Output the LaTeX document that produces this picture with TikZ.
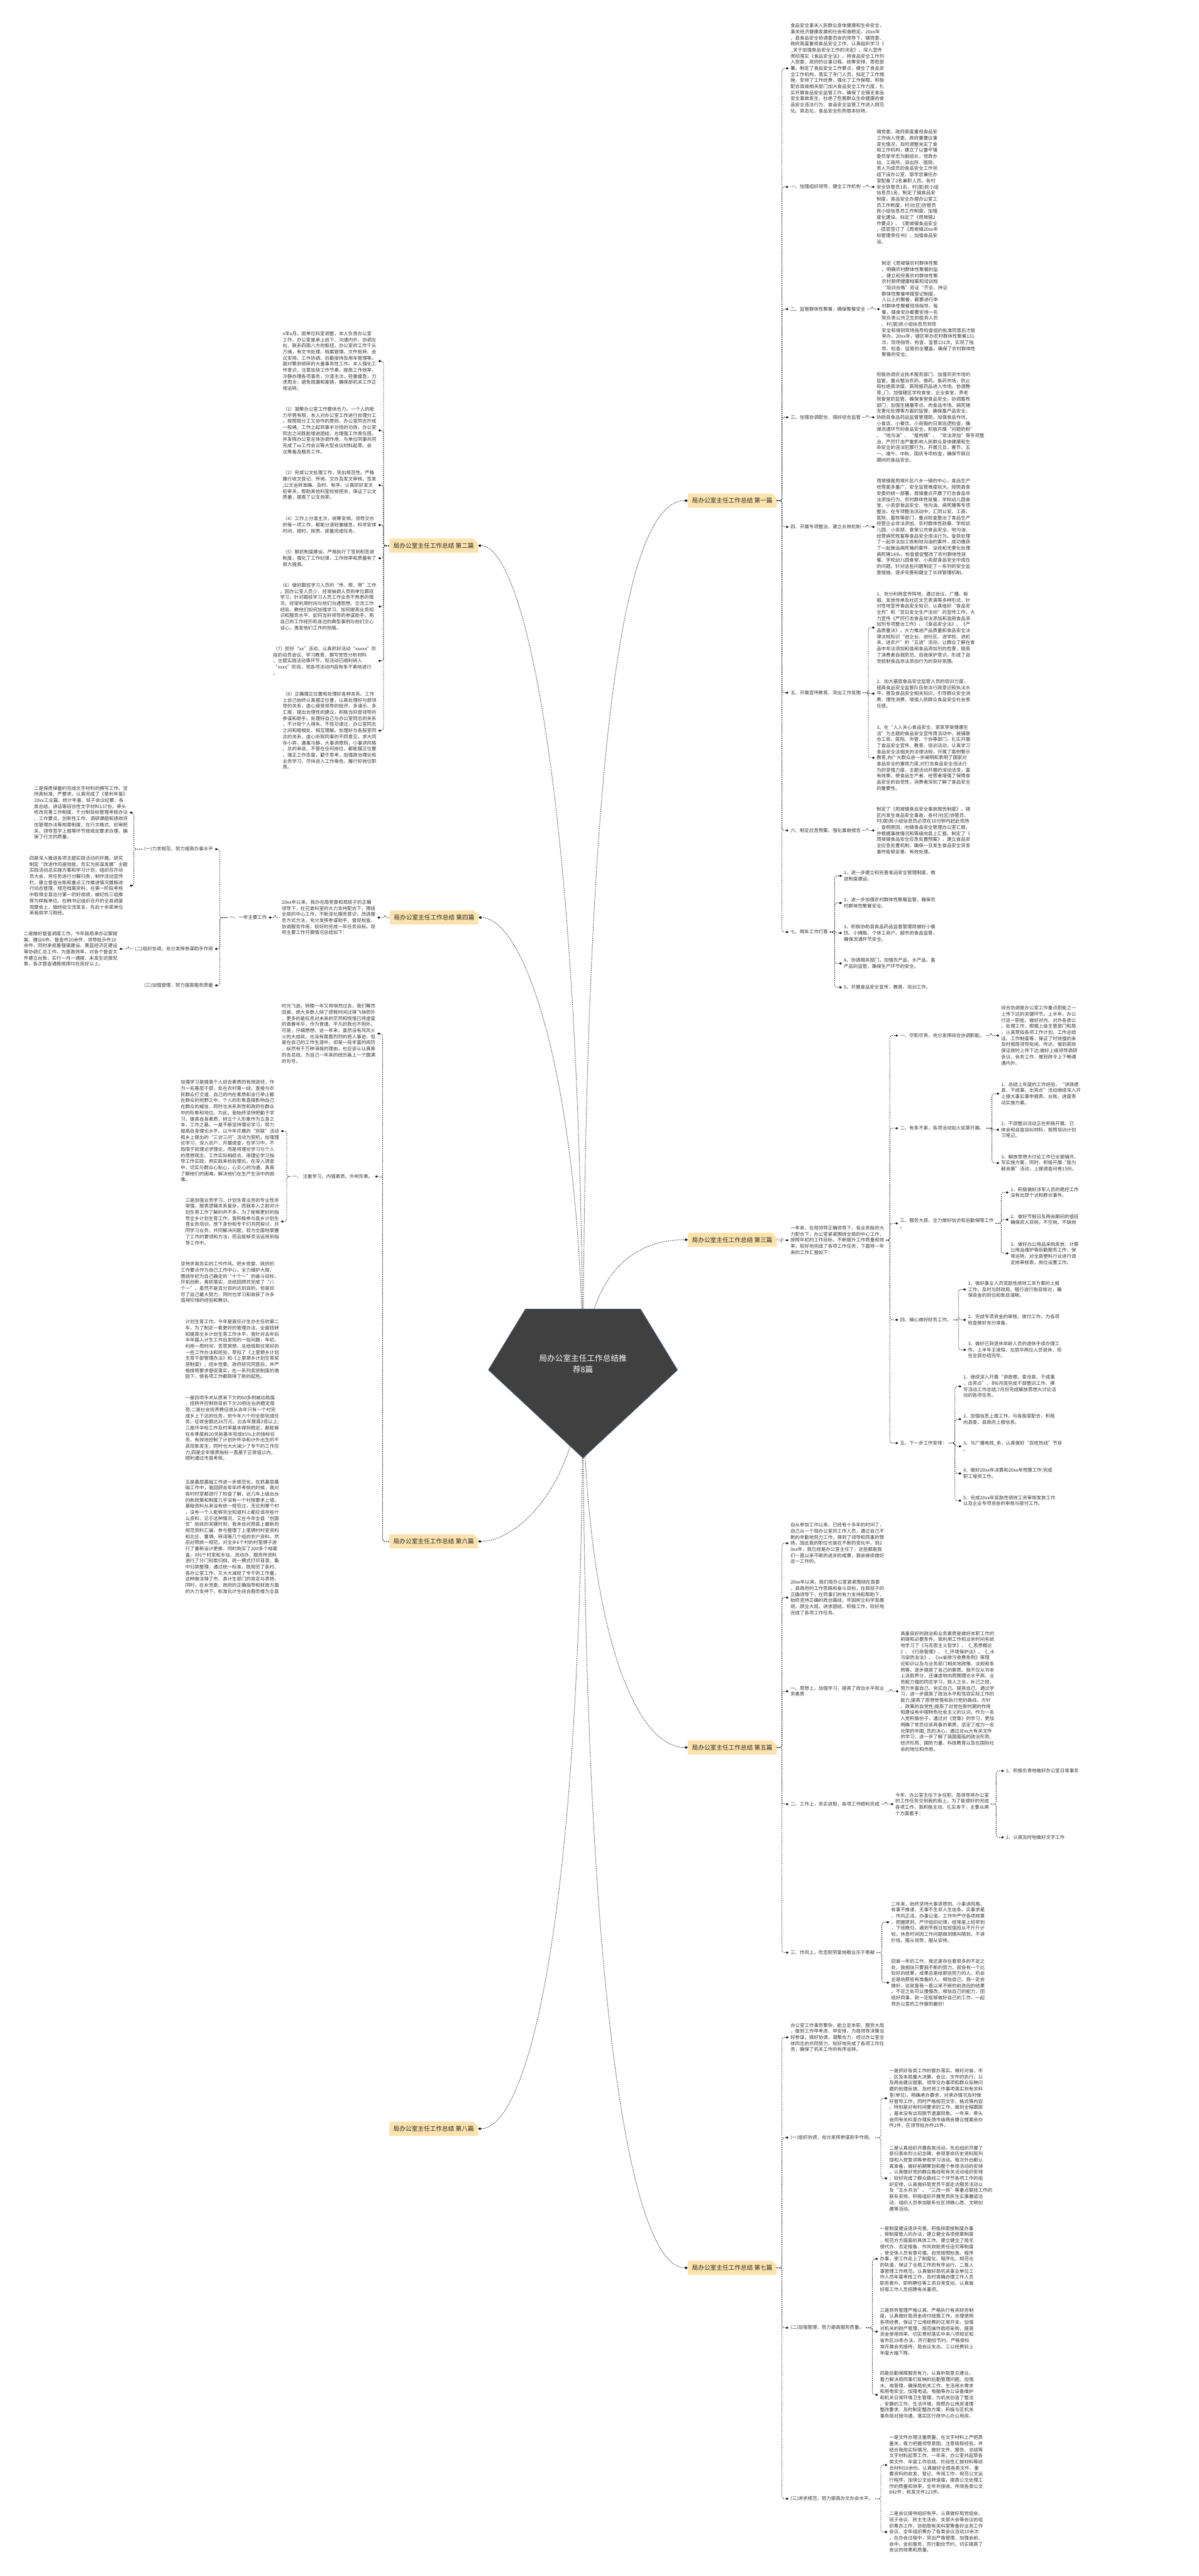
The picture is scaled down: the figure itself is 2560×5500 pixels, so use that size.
\documentclass[tikz,border=0pt]{standalone}
\usepackage{fontspec}
\setmainfont{Noto Sans CJK SC}
\usetikzlibrary{arrows.meta,shapes.misc}
\definecolor{tc}{HTML}{333333}
\definecolor{tpc}{HTML}{FCE3AE}
\definecolor{ctrc}{HTML}{404040}
\definecolor{ctrb}{HTML}{3B5E8C}
\definecolor{lc}{HTML}{1A1A1A}
\newcommand\fsa{\fontsize{10}{13}\selectfont}
\newcommand\rch[3]{\draw[conn] (#1.east) -- ++(#3,0) |- (#2.west);}
\newcommand\lch[3]{\draw[conn] (#1.west) -- ++(-#3,0) |- (#2.east);}
\begin{document}
\begin{tikzpicture}[x=1pt,y=-1pt,
  conn/.style={draw=lc, line width=1.1pt, dash pattern=on 2.2pt off 2.2pt, rounded corners=5pt, -{Diamond[length=6pt,width=5pt]}},
  mainc/.style={draw=lc, line width=1.3pt, dash pattern=on 1.6pt off 2.4pt, -{Diamond[length=7pt,width=6pt]}},
  txt/.style={font=\fsa, align=left, inner xsep=4pt, inner ysep=1pt, text=tc},
  tp/.style={chamfered rectangle, chamfered rectangle corners=north east, chamfered rectangle xsep=5pt, chamfered rectangle ysep=5pt, fill=tpc, font=\fontsize{13}{15}\selectfont, inner xsep=4pt, inner ysep=4pt, minimum height=30pt, text=black!85}]
\fill[white] (0,0) rectangle (2560,5500);
\useasboundingbox (0,0) rectangle (2560,5500);

% ---------- topics ----------
\node[tp,anchor=east] (t1) at (1659,1069) {局办公室主任工作总结 第一篇};
\node[tp,anchor=west] (t2) at (831,1165) {局办公室主任工作总结 第二篇};
\node[tp,anchor=east] (t3) at (1659,2647) {局办公室主任工作总结 第三篇};
\node[tp,anchor=west] (t4) at (832,1959) {局办公室主任工作总结 第四篇};
\node[tp,anchor=east] (t5) at (1659,3731) {局办公室主任工作总结 第五篇};
\node[tp,anchor=west] (t6) at (831,3291) {局办公室主任工作总结 第六篇};
\node[tp,anchor=east] (t7) at (1659,4842) {局办公室主任工作总结 第七篇};
\node[tp,anchor=west] (t8) at (831,4545) {局办公室主任工作总结 第八篇};

% ---------- centre curves ----------
\coordinate (cc) at (1245,2925);
\draw[mainc] (cc) .. controls (1250,1600) and (1330,1069) .. (t1.west);
\draw[mainc] (cc) .. controls (1240,1700) and (1120,1165) .. (t2.east);
\draw[mainc] (cc) .. controls (1258,2720) and (1350,2647) .. (t3.west);
\draw[mainc] (cc) .. controls (1240,2300) and (1120,1959) .. (t4.east);
\draw[mainc] (cc) .. controls (1245,3450) and (1350,3731) .. (t5.west);
\draw[mainc] (cc) .. controls (1235,3180) and (1100,3291) .. (t6.east);
\draw[mainc] (cc) .. controls (1245,4300) and (1350,4842) .. (t7.west);
\draw[mainc] (cc) .. controls (1245,4150) and (1120,4545) .. (t8.east);

\filldraw[fill=ctrc, draw=ctrb, line width=0.8pt] (1122,2795) -- (1368,2795) -- (1447,2925) -- (1245,3113) -- (1043,2925) -- cycle;
\node[font=\fontsize{17}{23}\selectfont, text=white, align=center] (ctr) at (1245,2912) {局办公室主任工作总结推\\荐8篇};

% ---------- 第一篇 ----------
\node[txt,anchor=west] (a1) at (1684,146) {食品安全事关人民群众身体健康和生命安全，\\事关经济健康发展和社会和谐稳定。20xx年\\，县食品安全协调委员会的领导下，镇党委、\\政府高度重视食品安全工作，认真组织学习《\\\_关于加强食品安全工作的决定》，深入宣传\\贯彻落实《食品安全法》，将食品安全工作列\\入党委、政府的议事日程，统筹安排、周密部\\署，制定了食品安全工作要点，健全了食品安\\全工作机构，落实了专门人员，拟定了工作措\\施，安排了工作经费，强化了工作保障，积极\\配合县级相关部门加大食品安全工作力度，扎\\实开展食品安全监管工作，确保了全镇无食品\\安全事故发生，杜绝了危害群众生命健康的食\\品安全违法行为，食品安全监管工作进入规范\\化、常态化，食品安全形势根本好转。};
\node[txt,anchor=west] (a2) at (1684,399) {一、加强组织领导，健全工作机构};
\node[txt,anchor=west] (b2) at (1868,399) {镇党委、政府高度重视食品安\\工作纳入党委、政府重要议事\\变化情况，及时调整充实了食\\和工作机构，建立了以雷平镇\\委员邹学忠为副组长，党政办\\站、工商所、派出所、医院、\\责人为成员的食品安全工作领\\组下设办公室，邹学忠兼任办\\室配备了2名兼职人员。各村\\安全协管员1名，村(居)民小组\\信息员1名。制定了镇食品安\\制度，食品安全办理办公室工\\员工作制度，村(社区)协管员\\民小组信息员工作制度，加强\\度化建设。拟定了《周坡镇2\\作要点》、《周坡镇食品安全\\，层层签订了《周坡镇20xx年\\标管理责任书》，加强食品安\\设。};
\node[txt,anchor=west] (a3) at (1684,660) {二、监管群体性聚餐，确保聚餐安全};
\node[txt,anchor=west] (b3) at (1879,660) {制定《周坡镇农村群体性聚\\，明确农村群体性聚餐的监\\。建立和完善农村群体性聚\\农村厨师健康档案和培训档\\“培训合格”双证“齐全、持证\\群体性聚餐申报登记制度，\\人以上的聚餐，都要进行申\\村群体性聚餐现场指导，每\\餐，镇食安办都要安排一名\\院负责公共卫生的医务人员\\、村(居)民小组信息员到现\\安全和得到现场指导检查组的批准同意后才能\\举办。20xx年，辖区举办农村群体性聚餐131\\次，现场指导、检查、监管131次，实现了指\\导、检查、监管的全覆盖，确保了农村群体性\\聚餐的安全。};
\node[txt,anchor=west] (a4) at (1684,891) {三、加强协调配合，搞好综合监管};
\node[txt,anchor=west] (b4) at (1868,891) {积极协调农业技术服务部门，加强农资市场的\\监管，重点整治农药、兽药、鱼药市场，防止\\和杜绝高浓度、高残留药品进入市场。协调教\\育\_门，加强辖区学校食堂，企业食堂，养老\\院食堂的监管，确保食堂食品安全。协调畜牧\\部门，加强生猪屠宰点、肉食品市场、病死猪\\无害化处理等方面的监管，确保畜产品安全。\\协助县食品药品监督管理局，加强食品作坊、\\小食店、小餐饮、小商贩的日常巡逻检查，确\\保流通环节的食品安全。积极开展“问题奶粉”\\、“地沟油”、“瘦肉精”、“非法添加”等专项整\\治，严厉打击严重影响人民群众身体健康和生\\命安全的违法犯罪行为。开展元旦、春节、五\\一、端午、中秋、国庆专项检查，确保节假日\\期间的食品安全。};
\node[txt,anchor=west] (a5) at (1684,1125) {四、开展专项整治、建立长效机制};
\node[txt,anchor=west] (b5) at (1868,1125) {周坡镇是周坡片区六乡一镇的中心，食品生产\\经营面多量广，安全监管难度较大。按照县食\\安委的统一部署，我镇重点开展了打击食品非\\法添加行为、农村群体性就餐、学校幼儿园食\\堂、小卖部食品安全、地沟油、病死猪等专项\\整治。在专项整治活动中，汇同公安、工商、\\医院、畜牧等部门，重点检查整治了食品生产\\经营企业非法添加、农村群体性就餐、学校幼\\儿园、小卖部、食堂公共食品安全、地沟油、\\经营病死牲畜等食品安全违法行为。查获处理\\了一起非法加工炼制地沟油的案件，成功缴获\\了一起贩运病死猪的案件，没收和无害化处理\\病死猪18头。检查督促整改了农村群体性就\\餐、学校幼儿园食堂、小卖部食品安全中成在\\的问题。针对这些问题制定了一系列的安全监\\管措施，逐步完善和健全了长效管理机制。};
\node[txt,anchor=west] (a6) at (1684,1479) {五、开展宣传教育、突出工作氛围};
\node[txt,anchor=west] (b6a) at (1868,1340) {1、充分利用宣传阵地，通过会议、广播、板\\报、发放传单及社区文艺表演等多种形式，针\\对性地宣传食品安全知识，认真组织“食品安\\全月”和“百日安全生产活动”的宣传工作。大\\力宣传《严厉打击食品非法添加和滥用食品添\\加剂专项整治工作》、《食品安全法》、《产\\品质量法》。大力推进产品质量和食品安全法\\律法规知识“进企业、进社区、进学校、进机\\关、进农户”的“五进”活动，让群众了解在食\\品中非法添加和滥用食品添加剂的危害，提高\\了消费者自我防范、自我保护意识，形成了自\\觉抵制食品非法添加行为的良好氛围。};
\node[txt,anchor=west] (b6b) at (1868,1481) {2、加大基层食品安全监管人员的培训力度，\\提高食品安全监管队伍依法行政意识和执法水\\平，普及食品安全相关知识，引导群众安全消\\费、理性消费，增强人民群众食品安全社会责\\任感。};
\node[txt,anchor=west] (b6c) at (1868,1618) {3、在“人人关心食品安全，家家享受健康生\\活”为主题的食品安全宣传周活动中，我镇联\\合工商、医院、市管、个协等部门，扎实开展\\了食品安全宣传、教育、培训活动，认真学习\\食品安全法相关的法律法规，开展了案例警示\\教育,向广大群众进一步阐明和表明了国家对\\食品安全的重视力度,对打击食品安全违法行\\为的坚强力度、主题活动开展的深动活泼，富\\有效果，使食品生产者、经营者增强了保障食\\品安全的自觉性，消费者深刻了解了食品安全\\的重要性。};
\node[txt,anchor=west] (a7) at (1684,1773) {六、制定应急预案、强化事故报告};
\node[txt,anchor=west] (b7) at (1868,1773) {制定了《周坡镇食品安全事故报告制度》，辖\\区内发生食品安全事故，各村(社区)协管员、\\村(居)民小组信息员必须在10分钟内赶赴现场\\，查明原因，向镇食品安全管理办公室汇报，\\并根据事故情况和等级向县上汇报。制定了《\\周坡镇食品安全应急处置预案》，建立食品安\\全应急处置机制，确保一旦发生食品安全突发\\事件能够妥善、有效处理。};
\node[txt,anchor=west] (a8) at (1684,1990) {七、明年工作打算};
\node[txt,anchor=west] (b8a) at (1798,1870) {1、进一步建立和完善食品安全管理制度，推\\进制度建设。};
\node[txt,anchor=west] (b8b) at (1798,1928) {2、进一步加强农村群体性聚餐监管，确保农\\村群体性聚餐安全。};
\node[txt,anchor=west] (b8c) at (1798,1992) {3、积极协助县食品药品监督管理局做好小餐\\饮、小摊贩、个体工商户、超市的食品监管，\\确保流通环节安全。};
\node[txt,anchor=west] (b8d) at (1798,2057) {4、协调相关部门，加强农产品、水产品、畜\\产品的监管，确保生产环节的安全。};
\node[txt,anchor=west] (b8e) at (1798,2108) {5、开展食品安全宣传、教育、培训工作。};
\foreach \c in {a1,a2,a3,a4,a5,a6,a7,a8} {\rch{t1}{\c}{11}}
\rch{a2}{b2}{10}\rch{a3}{b3}{10}\rch{a4}{b4}{10}\rch{a5}{b5}{10}\rch{a7}{b7}{10}
\foreach \c in {b6a,b6b,b6c} {\rch{a6}{\c}{12}}
\foreach \c in {b8a,b8b,b8c,b8d,b8e} {\rch{a8}{\c}{10}}

% ---------- 第三篇 ----------
\node[txt,anchor=west] (c0) at (1684,2648) {一年来，在局领导正确领导下，各业务股的大\\力配合下，办公室紧紧围绕全局的中心工作，\\按照年初的工作目标，不断提升工作质量和效\\率，较好地完成了各项工作任务，下面将一年\\来的工作汇报如下：};
\node[txt,anchor=west] (c1) at (1918,2211) {一、尽职尽责，充分发挥综合协调职能。};
\node[txt,anchor=west] (d1) at (2134,2211) {综合协调是办公室工作重点职能之一\\上传下达的关键环节。上半年，办公\\行这一职能，做好对内、对外各类公\\、处理工作，根据上级主管部门和局\\，认真草拟各项工作计划、工作总结\\话、工作制度等，保证了时效强的来\\及时报局领导批阅、传达，做到高效\\保证按时上传下达;做好上级领导调研\\会议、会务工作，做到政令上下畅通\\通内外。};
\node[txt,anchor=west] (c2) at (1918,2409) {二、有条不紊，各项活动如火如荼开展。};
\node[txt,anchor=west] (d2a) at (2134,2335) {1、总结上年度的工作经验，“讲政德\\县、干成事、出亮点”活动继续深入开\\上报大事实事申报表、台账、进度表\\动实施方案。};
\node[txt,anchor=west] (d2b) at (2134,2412) {2、干部整训活动正在积极开展。已\\体会和自查自纠材料，按照培训计划\\习笔记。};
\node[txt,anchor=west] (d2c) at (2134,2483) {3、解放思想大讨论工作已全面铺开。\\写实施方案，同时，积极开展“我为\\献良策”活动，上报调查问卷15份。};
\node[txt,anchor=west] (c3) at (1918,2612) {三、服务大局，全力做好信访和后勤保障工作\\。};
\node[txt,anchor=west] (d3a) at (2154,2546) {1、积极做好涉军人员的稳控工作\\没有出现个访和群访事件。};
\node[txt,anchor=west] (d3b) at (2154,2604) {2、做好节假日及两会期间的值班\\确保双人双岗，不空岗、不缺岗};
\node[txt,anchor=west] (d3c) at (2154,2676) {3、做好办公用品采购发放、计算\\公用品维护等后勤服务工作，保\\常运转。对全县塑料行业进行调\\定岗审核表，岗位设置工作。};
\node[txt,anchor=west] (c4) at (1918,2818) {四、细心做好财务工作。};
\node[txt,anchor=west] (d4a) at (2063,2753) {1、做好事业人员奖励性绩效工资方案的上报\\工作。及时与财政局、银行进行账目核对，确\\保资金的到位和账目清晰。};
\node[txt,anchor=west] (d4b) at (2063,2818) {2、完成专项资金的审核、拨付工作，为各项\\检查做好充分准备。};
\node[txt,anchor=west] (d4c) at (2063,2882) {3、做好已到退休年龄人员的退休手续办理工\\作。上半年王淑恒、左丽华两位人员退休，现\\在全部办结完毕。};
\node[txt,anchor=west] (c5) at (1918,3081) {五、下一步工作安排：};
\node[txt,anchor=west] (d5a) at (2053,2960) {1、继续深入开展“讲政德、爱沧县、干成事\\、出亮点”。到6月底完成干部整训工作，撰\\写活动工作总结;7月份完成解放思想大讨论活\\动的各项任务。};
\node[txt,anchor=west] (d5b) at (2053,3030) {2、加强信息上报工作，与各股室配合，积极\\向县委、县政府上报信息。};
\node[txt,anchor=west] (d5c) at (2053,3088) {3、与广播电视\_系，认真做好“百姓热线”节目\\。};
\node[txt,anchor=west] (d5d) at (2053,3146) {4、做好20xx年决算和20xx年预算工作;完成\\职工增资工作。};
\node[txt,anchor=west] (d5e) at (2053,3204) {5、完成20xx年奖励性绩效工资审核发放工作\\以及企业专项资金的审核与拨付工作。};
\rch{t3}{c0}{10}
\foreach \c in {c1,c2,c3,c4,c5} {\rch{c0}{\c}{8}}
\rch{c1}{d1}{10}
\foreach \c in {d2a,d2b,d2c} {\rch{c2}{\c}{12}}
\foreach \c in {d3a,d3b,d3c} {\rch{c3}{\c}{12}}
\foreach \c in {d4a,d4b,d4c} {\rch{c4}{\c}{11}}
\foreach \c in {d5a,d5b,d5c,d5d,d5e} {\rch{c5}{\c}{13}}

% ---------- 第五篇 ----------
\node[txt,anchor=west] (e1) at (1684,3295) {自从参加工作以来，已经有十多年的时间了，\\自己从一个局办公室的工作人员，通过自己不\\断的辛勤地努力工作，得到了领导和同事的赞\\扬，因此我的职位也是在不断的变化中，到2\\0xx年，我已经是办公室主任了，这些都是我\\们一直以来不断的进步的成果，我会继续做好\\这一工作的。};
\node[txt,anchor=west] (e2) at (1684,3411) {20xx年以来。我们局办公室紧紧围绕在县委\\、县政府的工作思路和奋斗目标，在局班子的\\正确领导下，在同事们的有力支持和帮助下，\\始终坚持正确的政治路线，牢固树立科学发展\\观，顾全大局，讲求团结，积极工作，较好地\\完成了各项工作任务。};
\node[txt,anchor=west] (e3) at (1684,3611) {一、思想上，加强学习，提高了政治水平和业\\务素质};
\node[txt,anchor=west] (f3) at (1919,3611) {具备良好的政治和业务素质是做好本职工作的\\前提和必要条件。我利用工作和业余时间系统\\地学习了《马克思主义哲学》、《\_思想概论\\》、《行政管理》、《\_环境保护法》、《\_水\\污染防治法》、《xx省排污收费条例》等理\\论知识以及与业务部门相关地政策、法规和条\\例等，逐步提高了自己的素质。我不仅从书本\\上汲取养分，还谦虚地向周围理论水平高、业\\务能力强的同志学习，取人之长，补己之短，\\努力丰富自己、充实自己、提高自己。通过学\\习，进一步提高了政治水平和驾驭实际工作的\\能力;提高了思想觉悟和执行党的路线、方针\\、政策的自觉性;提高了对党在新时期的作用\\和建设有中国特色社会主义的认识。作为一名\\入党积极份子，通过对《党章》的学习，更加\\明确了党员应该具备的素质，坚定了成为一名\\光荣的中国\_员的决心。通过对xx大有关文件\\的学习，进一步了解了我国面临的政治形势、\\经济形势、国防力量、科技教育以及在国际社\\会的地位和作用。};
\node[txt,anchor=west] (e4) at (1684,3852) {二、工作上，务实进取，各项工作顺利完成};
\node[txt,anchor=west] (f4) at (1908,3852) {今年，办公室主任下乡任职，局领导将办公室\\的工作任务交到我的肩上。为了能很好的完成\\各项工作，我积极主动、扎实肯干，主要从两\\个方面着手：};
\node[txt,anchor=west] (g1) at (2144,3781) {1、积极负责地做好办公室日常事务};
\node[txt,anchor=west] (g2) at (2144,3923) {2、认真及时地做好文字工作};
\node[txt,anchor=west] (e5) at (1684,4169) {三、作风上，吃苦耐劳爱岗敬业乐于奉献};
\node[txt,anchor=west] (f5a) at (1899,4104) {二年来，始终坚持大事讲原则、小事讲风格、\\有事不推诿、无事不生非人生信条。实事求是\\，作风正派，办事公道。工作中严守各项规章\\，把握原则，严守组织纪律，经常是上班早到\\，下班晚归，遇到节假日加班值班从不斤斤计\\较。休息时间因工作问题做到随叫随到，不讲\\价钱，服从领导，服从安排。};
\node[txt,anchor=west] (f5b) at (1899,4233) {回首一年的工作，我还是存在着很多的不足之\\处，我相信只要我不断的努力，就会有一个比\\较好的结果，成果总是给那些努力的人，机会\\总是给那些有准备的人，相信自己，我一定会\\做好，这就是我一直以来不断的前进后的结果\\。不足之处可以慢慢改，相信自己的能力，团\\结好同事，就一定能够做好自己的工作，一起\\将办公室的工作做到最好!};
\foreach \c in {e1,e2,e3,e4,e5} {\rch{t5}{\c}{11}}
\rch{e3}{f3}{10}\rch{e4}{f4}{10}
\foreach \c in {g1,g2} {\rch{f4}{\c}{11}}
\foreach \c in {f5a,f5b} {\rch{e5}{\c}{11}}

% ---------- 第七篇 ----------
\node[txt,anchor=west] (h1) at (1684,4350) {办公室工作事务繁杂，能立足本职、服务大局\\，做到工作早考虑、早安排，为局领导决策当\\好参谋，搞好协调，凝聚合力，经过办公室全\\体同志的共同努力，较好地完成了各项工作任\\务，确保了机关工作的有序运转。};
\node[txt,anchor=west] (h2) at (1684,4564) {(一)组织协调，充分发挥参谋助手作用。};
\node[txt,anchor=west] (i2a) at (1895,4480) {一是抓好各类工作的督办落实。做好对省、市\\、区及本局重大决策、会议、文件的执行，以\\及两会建议提案、领导交办事项和群众反映问\\题的处理反馈。及时将工作事项落实到有关科\\室(单位)，明确承办要求，对承办情况及时做\\好督导工作，同时严格规范文字、格式等内容\\。特别是对有时间要求的工作，做到全程跟踪\\，基本没有出现脱节遗漏现象。一年来，牵头\\会同有关科室办理反馈市级两会建议提案会办\\件2件，区领导批办件25件。};
\node[txt,anchor=west] (i2b) at (1895,4651) {二是认真组织开展各类活动。先后组织开展了\\祭扫革命烈士纪念碑、参观革命历史资料陈列\\馆和入党誓词等参观学习活动。每次外出都认\\真准备，做好前期筹划和整个参观活动的安排\\。认真做好党的群众路线和有关活动组织安排\\，较好完成了群众路线三个环节各项工作的组\\织安排，认真做好局党员干部走访服务活动以\\及“五水共治”、“三改一拆”等重点联挂工作的\\联系安排。积极组织开展党员民生实事履诺活\\动，组织人员参加联系社区领微心愿、文明创\\建等活动。};
\node[txt,anchor=west] (h3) at (1684,4970) {(二)加强管理，努力提高服务质量。};
\node[txt,anchor=west] (i3a) at (1875,4823) {一是制度建设逐步完善。积极探索按制度办事\\、按制度管人的办法，建立健全各项规章制度\\，规范方方面面的具体工作。建立健全了局无\\偿代办、否定报备、作风效能责任追究等制度\\，使全体人员有章可循，自觉按照标准、程序\\办事，使工作走上了制度化、程序化、规范化\\的轨道，保证了全局工作的有序运行。二是人\\事管理工作规范。认真做好局机关事业单位工\\作人员年度考核工作，及时准确办理工作人员\\职务晋升、职称聘任等工资日常变动，认真做\\好局工作人员招聘有关事项。};
\node[txt,anchor=west] (i3b) at (1875,4978) {三是财务管理严格认真。严格执行有关财务制\\度，认真做好局资金收付结报工作，合理使用\\各项经费，保证了公用经费的正常开支。加强\\对机关的财产管理，规范操作政府采购，提高\\资金使用效率，切实贯彻落实中央八项规定和\\省市区28条办法，厉行勤俭节约，严格按标\\准开展会务接待，局会议支出、三公经费较上\\年度大幅下降。};
\node[txt,anchor=west] (i3c) at (1875,5113) {四是后勤保障服务有力。认真听取意见建议，\\着力解决局同事们反映的后勤管理问题。加强\\水、电管理，确保局机关工作、生活用水需求\\和用电安全。加强电话、电脑等办公设备维护\\和机关日常环境卫生管理，为机关创造了整洁\\、安静的工作、生活环境。按照办公用房清理\\整改要求，及时制定整改方案，积极与区机关\\事务局对接沟通，落实区行政中心办公用房。};
\node[txt,anchor=west] (h4) at (1684,5335) {(三)讲求规范，努力提高办文办会水平。};
\node[txt,anchor=west] (i4a) at (1895,5263) {一是文件办理注重质量。在文字材料上严把质\\量关，极力把握领导意图，注意吸取经验，并\\结合我局实际情况，做好文件、报告、总结等\\文字材料起草工作，一年来，办公室共起草各\\类文件、年度工作总结、阶段性汇报材料等综\\合材料50余份。认真做好全局各类文件、重\\要资料的收发、登记、传阅工作，规范公文运\\行程序，加快公文运转速度，提高公文处理工\\作的质量和效率，全年共接收、传阅各类公文\\842件，核发文件223件。};
\node[txt,anchor=west] (i4b) at (1895,5406) {二是会议接待组织有序。认真做好局党组会、\\班子会议、民主生活会、支部大会等会议的组\\织筹办工作，协助局有关科室筹备好业务工作\\会议，全年组织筹办了各类会议活动10余次\\。在办会过程中，突出严格管理，加强会前、\\会中、会后服务，厉行勤俭节约，切实提高了\\会议的效果和质量。};
\foreach \c in {h1,h2,h3,h4} {\rch{t7}{\c}{11}}
\foreach \c in {i2a,i2b} {\rch{h2}{\c}{12}}
\foreach \c in {i3a,i3b,i3c} {\rch{h3}{\c}{14}}
\foreach \c in {i4a,i4b} {\rch{h4}{\c}{12}}

% ---------- 第二篇 ----------
\node[txt,anchor=east] (j1) at (808,771) {x年x月，因单位科室调整，本人负责办公室\\工作。办公室是承上启下、沟通内外、协调左\\右、联系四面八方的枢纽，办公室的工作千头\\万绪，有文书处理、档案管理、文件批转、会\\议安排、工作协调、后勤接待及用车管理等。\\面对繁杂琐碎的大量事务性工作。本人强化工\\作意识，注意加快工作节奏，提高工作效率，\\冷静办理各项事务，分清主次，轻重缓急，力\\求周全，避免疏漏和差错，确保部机关工作正\\常运转。};
\node[txt,anchor=east] (j2) at (808,919) {（1）凝聚办公室工作整体合力。一个人的能\\力毕竟有限，本人对办公室工作进行合理分工\\，按照既分工又协作的原则，办公室同志拧成\\一股绳，工作上起到事半功倍的功效，办公室\\同志之间既能增进团结，也增强工作责任感。\\并发挥办公室总体协调作用，与单位同事共同\\完成了xx工作会议等大型会议材料起草、会\\议筹备及服务工作。};
\node[txt,anchor=east] (j3) at (808,1036) {（2）完成公文处理工作，突出规范性。严格\\履行收文登记、传阅、交办及发文审核、签发\\,公文运转准确、及时、有序。认真抓好发文\\初审关，帮助其他科室校核把关，保证了公文\\质量，提高了公文效率。};
\node[txt,anchor=east] (j4) at (808,1121) {（4）工作上分清主次，统筹安排。领导交办\\的每一项工作，都能分清轻重缓急，科学安排\\时间，按时、按质、按量完成任务。};
\node[txt,anchor=east] (j5) at (808,1192) {（5）狠抓制度建设。严格执行了签到和签退\\制度，强化了工作纪律，工作效率和质量有了\\很大提高。};
\node[txt,anchor=east] (j6) at (808,1295) {（6）做好跟班学习人员的“传、帮、带”工作\\。因办公室人员少，经常抽调人员到单位跟班\\学习，针对跟班学习人员工作业务不熟悉的情\\况，经常利用时间与他们沟通思想、交流工作\\经验，教他们如何加强学习、如何提高业务知\\识和服务水平、如何当好领导的参谋助手，用\\自己的工作经历和身边的典型事例与他们交心\\谈心，激发他们工作的热情。};
\node[txt,anchor=east] (j7) at (808,1411) {（7）抓好“xx”活动。认真抓好活动“xxxxx”阶\\段的动员会议、学习教育、撰写党性分析材料\\、主题实践活动等环节，现活动已顺利转入\\“xxxx”阶段，现各项活动内容有条不紊地进行\\。};
\node[txt,anchor=east] (j8) at (808,1560) {（8）正确摆正位置和处理好各种关系。工作\\上自己始终认真摆正位置，认真处理好与部领\\导的关系，虚心接受领导的批评，多请示、多\\汇报，提出合理性的建议，积极当好部领导的\\参谋和助手。处理好自己与办公室同志的关系\\，不计较个人得失，不揽功诿过，办公室同志\\之间和睦相处、相互理解。处理好与各股室同\\志的关系，虚心听取同事的不同意见，求大同\\存小异，遇事冷静，大事讲原则，小事讲风格\\。总的来说，不管在任何岗位，都能摆正位置\\，端正工作态度，勤于思考，加强政治理论和\\业务学习，尽快进入工作角色，履行好岗位职\\责。};
\foreach \c in {j1,j2,j3,j4,j5,j6,j7,j8} {\lch{t2}{\c}{12}}

% ---------- 第四篇 ----------
\node[txt,anchor=east] (k0) at (806,1959) {20xx年以来，我办在局党委和局班子的正确\\领导下，在兄弟科室的大力支持配合下，围绕\\全局的中心工作，不断深化服务意识，改进服\\务方式方法，充分发挥参谋助手、督促检查、\\协调服务作用，较好的完成一年任务目标。现\\将主要工作开展情况总结如下：};
\node[txt,anchor=east] (k1) at (574,1959) {一、一年主要工作};
\node[txt,anchor=east] (l1) at (459,1813) {(一)力求规范，努力提高办事水平};
\node[txt,anchor=east] (l2) at (459,2026) {(二)组织协调，充分发挥参谋助手作用};
\node[txt,anchor=east] (l3) at (459,2104) {(三)加强管理，努力提高服务质量};
\node[txt,anchor=east] (m1a) at (277,1735) {二是保质保量的完成文字材料的撰写工作。坚\\持高标准、严要求，认真完成了《垦利年鉴》\\20xx工业篇、统计年鉴、班子会议纪要、各\\类总结、讲话等综合性文字材料137份。牵头\\修改完善工作制度、千分制目标管理考核办法\\、工作要点、创新性工作、调研课题和绩效评\\估管理办法等规章制度，在行文格式、初审把\\关、领导签字上报等环节按规定要求办理，确\\保了行文的质量。};
\node[txt,anchor=east] (m1b) at (277,1891) {四是深入推进各项主题实践活动的开展。研究\\制定“改进作风提效能，务实为民谋发展”主题\\实践活动总实施方案和学习计划，组织召开动\\员大会，将任务进行分解归责，制作活动宣传\\栏，建立督查台账和重点工作推进情况展板进\\行动态管理，规范档案资料，在第一阶段考核\\中取得全县总分第一的好成绩，被纪检三组推\\荐为样板单位，在韩书记组织召开的全县调度\\观摩会上，做经验交流发言，先后十余家单位\\来我局学习取经。};
\node[txt,anchor=east] (m2) at (255,2026) {二是做好督查调度工作。今年我局承办议案提\\案、建议6件，督查件20余件，领导批示件10\\余件，同时承担着强镇建设、黄蓝经济区建设\\等协调汇总工作，为提高效率，对各个督查文\\件建立台账，实行一月一通报，未发生迟报现\\象，各次督查通报成绩均在良好以上。};
\lch{t4}{k0}{10}\lch{k0}{k1}{10}
\foreach \c in {l1,l2,l3} {\lch{k1}{\c}{16}}
\foreach \c in {m1a,m1b} {\lch{l1}{\c}{18}}
\lch{l2}{m2}{10}

% ---------- 第六篇 ----------
\node[txt,anchor=east] (n1) at (806,2207) {时光飞逝，转眼一年又将悄然过去，我们蓦然\\回首，绝大多数人除了感慨时间过得飞快而外\\，更多的是叹息对未来的茫然和惋惜已将虚度\\的青春年华，作为普通、平凡的我也不例外。\\可是，仔细想想，这一年来，虽然没有风风火\\火的大成就，也没有轰轰烈烈的感人事迹，但\\是在自己的工作生涯中，却是一段丰富的阅历\\，纵然有千万种消极的理由，也应该认认真真\\的去总结，为自己一年来的经历画上一个圆满\\的句号。};
\node[txt,anchor=east] (n2) at (801,2512) {一、 注重学习，内强素质，外树形象。};
\node[txt,anchor=east] (o1) at (600,2415) {加强学习是提高个人综合素质的有效途径，作\\为一名基层干部，处在农村第一线，直接与农\\民群众打交道，自己的内在素质和言行举止都\\在群众的视野之中，个人的形象直接影响自己\\在群众的威信，同时也关系到党和政府在群众\\中的形象和地位。为此，我始终坚持把勤于学\\习，提高自身素质，树立个人形象作为立身之\\本，工作之基。一是不断坚持理论学习，努力\\提高自身理论水平。以今年开展的“双联”活动\\和乡上提出的“三访三问”活动为契机，加强理\\论学习，深入农户，开展调查，在学习中，不\\局限于就理论学理论，而是将理论学习与个人\\的思想观念、工作实际相结合，用理论学习指\\导工作实践，用实践来检验理论。在深入调查\\中，切实与群众心贴心，心交心的沟通，真真\\了解他们的困难，解决他们在生产生活中的困\\难。};
\node[txt,anchor=east] (o2) at (600,2608) {三是加强业务学习。计划生育业务的专业性非\\常强，报表逻辑关系复杂，而我本人之前对计\\划生育工作了解的并不多，为了能够更好的指\\导全乡计划生育工作，我积极参与县乡计划生\\育业务培训，放下身份和专干们共同探讨，共\\同学习业务，共同解决问题，较为全面地掌握\\了工作的要领和方法，而且能够灵活运用到指\\导工作中。};
\node[txt,anchor=east] (p1) at (600,2738) {坚持求真务实的工作作风。把乡党委、政府的\\工作要点作为自己工作中心，全力维护大局，\\围绕年初为自己确定的“十个一”的奋斗目标，\\开拓创新，真抓落实，总结回顾共完成了“八\\个一”，虽然不是百分百的达到目的，但是却\\尽了自己最大努力，同时也学习和收获了许多\\值得珍惜的经验和教训。};
\node[txt,anchor=east] (p2) at (600,2881) {计划生育工作。今年是我任计生办主任的第二\\年，为了制定一套更好的管理办法，全面扭转\\和提高全乡计划生育工作水平，我针对去年后\\半年届入计生工作后发现的一些问题，年初，\\利用一周时间，苦思冥想，总结吸取往常好的\\一些工作办法和经验，草拟了《上里塬乡计划\\生育干部管理办法》和《上里塬乡计划生育奖\\惩制度》，经乡党委、政府研究同意后，并严\\格按照要求督促落实，在一系列奖惩制度的激\\励下，使各项工作都取得了新的起色。};
\node[txt,anchor=east] (p3) at (600,3049) {一是四项手术从原来下欠的60多例被动局面\\，扭转并控制到目前下欠20例左右的稳定局\\势;二是社会抚养费征收从去年只有一个村完\\成乡上下达的任务，到今年六个村全部完成任\\务，征收金额达26万元，比去年提高2倍以上;\\三是环孕检工作及时率基本得到稳定，都能够\\在本季度前20天前基本完成85\%上的指标任\\务，有效地控制了计划外怀孕和计外出生的不\\良现象发生，同时也大大减少了专干的工作压\\力;四是全年报表指标一直基于正常值以内，\\顺利通过市县考核。};
\node[txt,anchor=east] (p4) at (600,3281) {五是基层基础工作进一步规范化，在抓基层基\\础工作中，我回顾去年年终考核的时候，我对\\各村村室都进行了检查了解，近几年上级出台\\的新政策和制度几乎没有一个村按要求上墙，\\基础资料从来没有统一规范过，无论到哪个村\\，没有一个人能够完全知道村上都应该存些什\\么资料，见于这种情况，又在今年全县“创国\\优”验收的关键时刻，我亲自对照县上最新的\\规范资料汇编，参与整理了上里塬村村室资料\\和北庄、曹塬、转湾等几个组的农户资料，然\\后对照统一规范，对全乡6个村的村室牌子进\\行了重新设计更换，同时购买了200多个档案\\盒，对6个村室和乡站、流动办、服务所资料\\进行了分门别类归档，统一模式打印目录，集\\中归类整理，通过统一标准，既规范了各村、\\各办公室工作，又大大减轻了专干的工作量，\\这种做法得了市、县计生部门的肯定与表扬，\\同时，在乡党委、政府的正确指导和财政方面\\的大力支持下，标准化计生综合服务楼为全县};
\lch{t6}{n1}{14}\lch{t6}{n2}{14}
\foreach \c in {o1,o2} {\lch{n2}{\c}{8}}
\end{tikzpicture}
\end{document}
